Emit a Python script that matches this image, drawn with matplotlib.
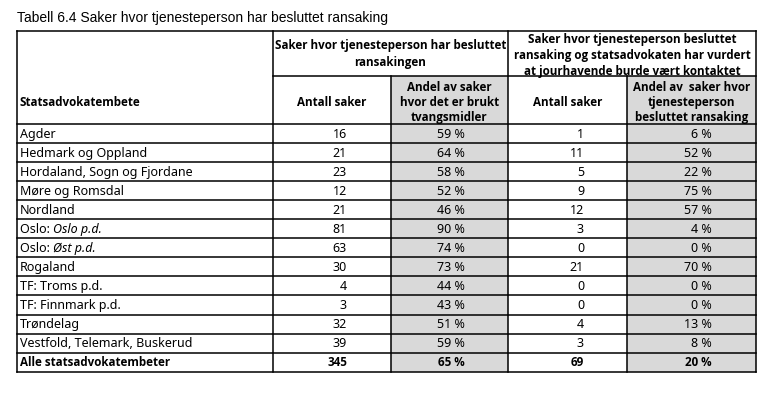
import matplotlib
matplotlib.use("Agg")
import matplotlib.pyplot as plt
from matplotlib.patches import Rectangle

title = "Tabell 6.4 Saker hvor tjenesteperson har besluttet ransaking"
group1 = "Saker hvor tjenesteperson har besluttet\nransakingen"
group2 = "Saker hvor tjenesteperson besluttet\nransaking og statsadvokaten har vurdert\nat jourhavende burde vært kontaktet"
col_headers = ["Statsadvokatembete", "Antall saker",
               "Andel av saker\nhvor det er brukt\ntvangsmidler",
               "Antall saker",
               "Andel av  saker hvor\ntjenesteperson\nbesluttet ransaking"]

# (normal part, italic part)
regions = [("Agder", ""), ("Hedmark og Oppland", ""), ("Hordaland, Sogn og Fjordane", ""),
           ("Møre og Romsdal", ""), ("Nordland", ""), ("Oslo: ", "Oslo p.d."),
           ("Oslo: ", "Øst p.d."), ("Rogaland", ""), ("TF: Troms p.d.", ""),
           ("TF: Finnmark p.d.", ""), ("Trøndelag", ""), ("Vestfold, Telemark, Buskerud", "")]
antall1 = [16, 21, 23, 12, 21, 81, 63, 30, 4, 3, 32, 39]
andel1 = [59, 64, 58, 52, 46, 90, 74, 73, 44, 43, 51, 59]
antall2 = [1, 11, 5, 9, 12, 3, 0, 21, 0, 0, 4, 3]
andel2 = [6, 52, 22, 75, 57, 4, 0, 70, 0, 0, 13, 8]
total_label = "Alle statsadvokatembeter"
total_vals = [345, 65, 69, 20]

W, H = 768, 401
fig = plt.figure(figsize=(W / 100, H / 100), dpi=100)
ax = fig.add_axes([0, 0, 1, 1])
ax.set_xlim(0, W)
ax.set_ylim(H, 0)
ax.axis("off")

FONT = "Noto Sans"
BFONT = "Open Sans"
FS = 9.0
BFS = 8.4
GRAY = "#d9d9d9"

xs = [17, 273, 391, 508, 627, 756]
y_top, y_mid, y_hdr = 31, 76, 124
row_h = 19.05
n_rows = len(regions) + 1
y_bottom = y_hdr + n_rows * row_h

# gray columns
for c in (2, 4):
    ax.add_patch(Rectangle((xs[c], y_mid), xs[c + 1] - xs[c], y_bottom - y_mid,
                           facecolor=GRAY, edgecolor="none", zorder=0))

lw = 1.1
ax.plot([xs[0], xs[-1]], [y_top, y_top], color="black", lw=lw)
ax.plot([xs[1], xs[-1]], [y_mid, y_mid], color="black", lw=lw)
for i in range(n_rows + 1):
    y = y_hdr + i * row_h
    ax.plot([xs[0], xs[-1]], [y, y], color="black", lw=lw)
for i, x in enumerate(xs):
    if i in (0, 1, 3, 5):
        ax.plot([x, x], [y_top, y_bottom], color="black", lw=lw)
    else:
        ax.plot([x, x], [y_mid, y_bottom], color="black", lw=lw)

ax.text(17, 18, title, fontsize=10.0, family="Liberation Sans", va="center", ha="left")

ax.text((xs[1] + xs[3]) / 2, 54, group1, fontsize=BFS, family=BFONT, weight="bold",
        ha="center", va="center", linespacing=1.32)
ax.text((xs[3] + xs[5]) / 2, 55.5, group2, fontsize=BFS, family=BFONT, weight="bold",
        ha="center", va="center", linespacing=1.3)

ax.text(20, 102.5, col_headers[0], fontsize=BFS, family=BFONT, weight="bold", ha="left", va="center")
for c in range(1, 5):
    ax.text((xs[c] + xs[c + 1]) / 2, 102.5, col_headers[c], fontsize=BFS, family=BFONT,
            weight="bold", ha="center", va="center", linespacing=1.2)

num_right = [347, 465, 584, 712]
fig.canvas.draw()
renderer = fig.canvas.get_renderer()
inv = ax.transData.inverted()

def row_y(i):
    return y_hdr + (i + 0.5) * row_h + 0.5

for i, (name, ital) in enumerate(regions):
    y = row_y(i)
    t = ax.text(20, y, name, fontsize=FS, family=FONT, ha="left", va="center")
    if ital:
        bb = t.get_window_extent(renderer=renderer)
        x_end = inv.transform((bb.x1, bb.y0))[0]
        ax.text(x_end, y, ital, fontsize=FS, family=FONT, style="italic", ha="left", va="center")
    vals = [str(antall1[i]), f"{andel1[i]} %", str(antall2[i]), f"{andel2[i]} %"]
    for v, xr in zip(vals, num_right):
        ax.text(xr, y, v, fontsize=FS, family=FONT, ha="right", va="center")

y = row_y(len(regions))
ax.text(20, y, total_label, fontsize=BFS, family=BFONT, weight="bold", ha="left", va="center")
tv = [str(total_vals[0]), f"{total_vals[1]} %", str(total_vals[2]), f"{total_vals[3]} %"]
for v, xr in zip(tv, num_right):
    ax.text(xr, y, v, fontsize=BFS, family=BFONT, weight="bold", ha="right", va="center")

fig.savefig("out.png", dpi=100)
